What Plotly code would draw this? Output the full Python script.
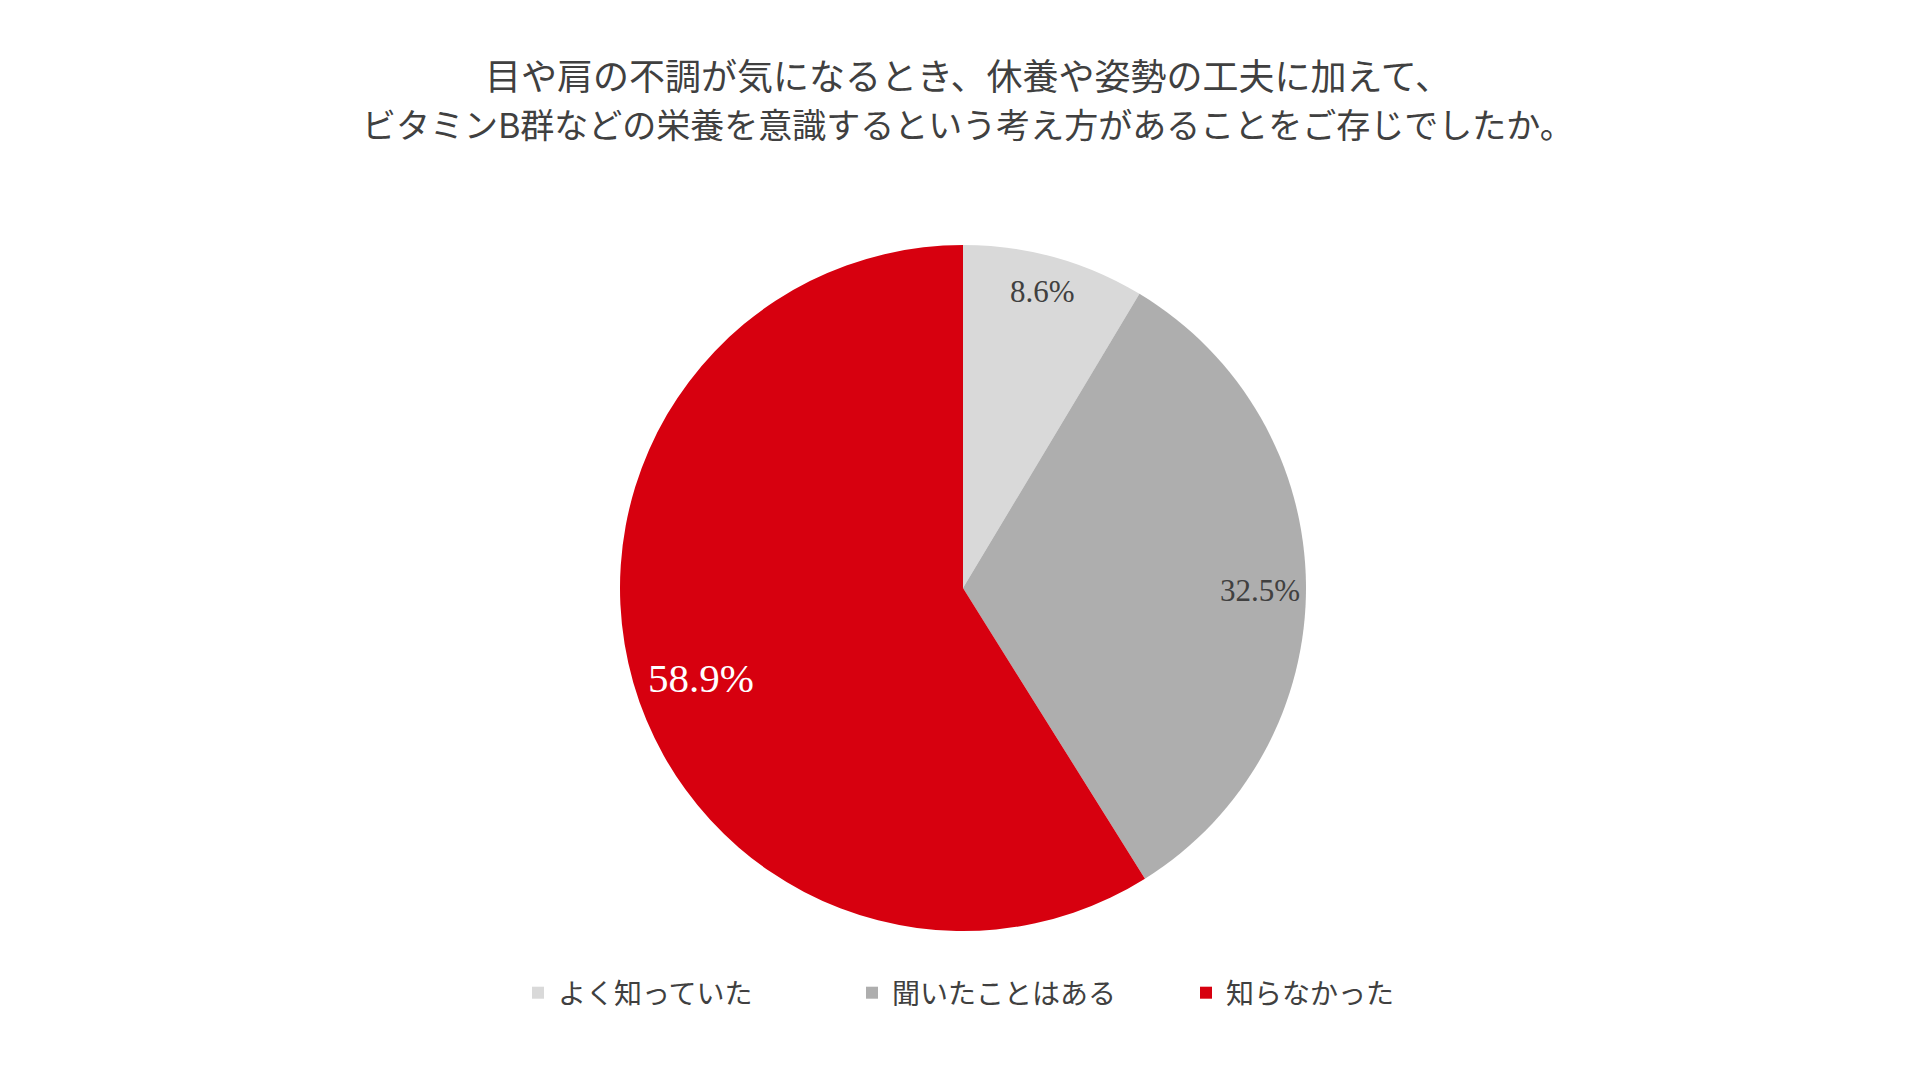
import math
import plotly.graph_objects as go

# survey answers (share of respondents, %)
labels = ["よく知っていた", "聞いたことはある", "知らなかった"]
values = [8.6, 32.5, 58.9]
colors = ["#D9D9D9", "#AEAEAE", "#D7000F"]
label_colors = ["#404040", "#404040", "#FFFFFF"]
label_sizes = [31, 31, 41]
# where each value label sits: fraction of radius and angle nudge (deg), like Excel's best fit
label_radius = [0.894, 0.866, 0.808]
label_turn = [-0.4, 1.1, -3.0]

title_lines = [
    "目や肩の不調が気になるとき、休養や姿勢の工夫に加えて、",
    "ビタミンB群などの栄養を意識するという考え方があることをご存じでしたか。",
]
title_sizes = [36, 34]

W, H = 1920, 1074
cx, cy, rad = 955, 580, 343  # pie centre / radius in px

fig = go.Figure(
    go.Pie(
        labels=labels,
        values=values,
        sort=False,
        direction="clockwise",
        rotation=0,
        marker=dict(colors=colors, line=dict(width=0)),
        textinfo="none",
        hovertemplate="%{label}: %{value:.1f}%<extra></extra>",
        domain=dict(x=[(cx - 400) / W, (cx + 400) / W],
                    y=[1 - (cy + rad) / H, 1 - (cy - rad) / H]),
    )
)

# value labels placed around the middle angle of each slice
total = sum(values)
start = 0.0
for v, col, size, f, turn in zip(values, label_colors, label_sizes, label_radius, label_turn):
    mid = (start + v / 2) / total * 2 * math.pi + math.radians(turn)
    start += v
    fig.add_annotation(
        x=(cx + f * rad * math.sin(mid)) / W,
        y=1 - (cy - f * rad * math.cos(mid)) / H,
        xref="paper", yref="paper",
        xanchor="center", yanchor="middle",
        text=f"{v:.1f}%",
        showarrow=False,
        font=dict(family="Liberation Serif", size=size, color=col),
    )

for i, (line, size) in enumerate(zip(title_lines, title_sizes)):
    fig.add_annotation(
        x=0.5, y=1 - (66 + 49 * i) / H,
        xref="paper", yref="paper",
        xanchor="center", yanchor="middle",
        text=line, showarrow=False,
        font=dict(size=size, color="#404040"),
    )

fig.update_layout(
    width=W,
    height=H,
    margin=dict(l=0, r=0, t=0, b=0),
    paper_bgcolor="white",
    plot_bgcolor="white",
    font=dict(family="Noto Sans CJK JP", color="#404040"),
    legend=dict(
        orientation="h",
        x=510 / W,
        xanchor="left",
        y=1 - 985 / H,
        yanchor="middle",
        font=dict(size=28, color="#404040"),
        entrywidth=289,
        entrywidthmode="pixels",
        traceorder="normal",
    ),
)

fig.write_html("out.html")
